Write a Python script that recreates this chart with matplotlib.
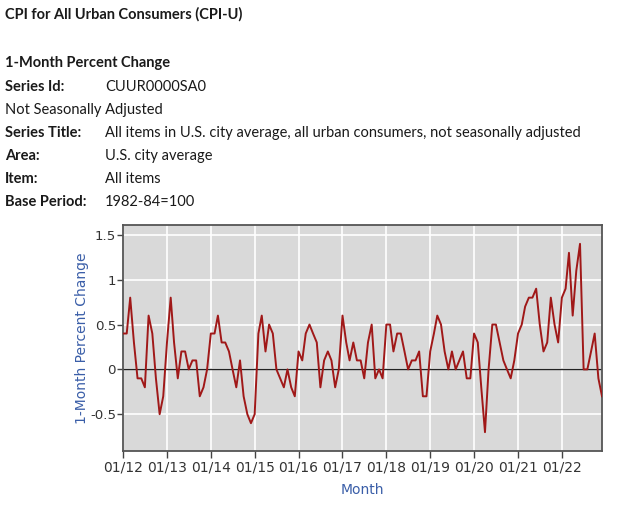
import matplotlib
matplotlib.use("Agg")
import matplotlib.pyplot as plt
import matplotlib.dates as mdates
import pandas as pd

# CPI-U 1-month percent change, not seasonally adjusted, Jan 2012 - Dec 2022
pct_2012 = [0.4, 0.4, 0.8, 0.3, -0.1, -0.1, -0.2, 0.6, 0.4, -0.1, -0.5, -0.3]
pct_2013 = [0.3, 0.8, 0.3, -0.1, 0.2, 0.2, 0.0, 0.1, 0.1, -0.3, -0.2, 0.0]
pct_2014 = [0.4, 0.4, 0.6, 0.3, 0.3, 0.2, 0.0, -0.2, 0.1, -0.3, -0.5, -0.6]
pct_2015 = [-0.5, 0.4, 0.6, 0.2, 0.5, 0.4, 0.0, -0.1, -0.2, 0.0, -0.2, -0.3]
pct_2016 = [0.2, 0.1, 0.4, 0.5, 0.4, 0.3, -0.2, 0.1, 0.2, 0.1, -0.2, 0.0]
pct_2017 = [0.6, 0.3, 0.1, 0.3, 0.1, 0.1, -0.1, 0.3, 0.5, -0.1, 0.0, -0.1]
pct_2018 = [0.5, 0.5, 0.2, 0.4, 0.4, 0.2, 0.0, 0.1, 0.1, 0.2, -0.3, -0.3]
pct_2019 = [0.2, 0.4, 0.6, 0.5, 0.2, 0.0, 0.2, 0.0, 0.1, 0.2, -0.1, -0.1]
pct_2020 = [0.4, 0.3, -0.2, -0.7, 0.0, 0.5, 0.5, 0.3, 0.1, 0.0, -0.1, 0.1]
pct_2021 = [0.4, 0.5, 0.7, 0.8, 0.8, 0.9, 0.5, 0.2, 0.3, 0.8, 0.5, 0.3]
pct_2022 = [0.8, 0.9, 1.3, 0.6, 1.1, 1.4, 0.0, 0.0, 0.2, 0.4, -0.1, -0.3]

pct_change = (pct_2012 + pct_2013 + pct_2014 + pct_2015 + pct_2016 + pct_2017
              + pct_2018 + pct_2019 + pct_2020 + pct_2021 + pct_2022)
months = pd.date_range("2012-01-01", periods=len(pct_change), freq="MS")
tick_years = pd.date_range("2012-01-01", "2022-01-01", freq="YS")
y_ticks = [-0.5, 0, 0.5, 1, 1.5]
y_labels = ["-0.5", "0", "0.5", "1", "1.5"]

header = [
    ("Series Id:", "CUUR0000SA0"),
    ("Not Seasonally Adjusted", None),
    ("Series Title:", "All items in U.S. city average, all urban consumers, not seasonally adjusted"),
    ("Area:", "U.S. city average"),
    ("Item:", "All items"),
    ("Base Period:", "1982-84=100"),
]

W, H = 620, 508
fig = plt.figure(figsize=(W / 100, H / 100), dpi=100)
fig.patch.set_facecolor("white")

hfont = "Lato"
txt_color = "#1a1a1a"
fs = 10.55
fig.text(5 / W, 1 - 14 / H, "CPI for All Urban Consumers (CPI-U)", fontsize=fs,
         fontweight="bold", family=hfont, color=txt_color, va="center")
fig.text(5 / W, 1 - 63 / H, "1-Month Percent Change", fontsize=fs,
         fontweight="bold", family=hfont, color=txt_color, va="center")
for i, (label, value) in enumerate(header):
    ypos = 1 - (87 + i * 23) / H
    if value is None:
        fig.text(5 / W, ypos, label, fontsize=fs, family=hfont, color=txt_color, va="center")
    else:
        fig.text(5 / W, ypos, label, fontsize=fs, fontweight="bold", family=hfont,
                 color=txt_color, va="center")
        fig.text(105 / W, ypos, value, fontsize=fs, family=hfont, color=txt_color, va="center")

ax = fig.add_axes([123 / W, 1 - 451 / H, (602 - 123) / W, (451 - 225) / H])
ax.set_facecolor("#d9d9d9")
ax.grid(True, color="white", linewidth=1.2)
ax.set_axisbelow(True)

ax.axhline(0, color="#222222", linewidth=1.0, zorder=2)
ax.plot(months, pct_change, color="#a01818", linewidth=1.4, zorder=3)

ax.set_xlim(months[0], months[-1])
ax.set_ylim(-0.91, 1.61)
ax.set_xticks(tick_years)
ax.xaxis.set_major_formatter(mdates.DateFormatter("%m/%y"))
ax.set_yticks(y_ticks)
ax.set_yticklabels(y_labels)
ax.tick_params(axis="both", colors="#444444", labelcolor="#333333", labelsize=10,
               length=5, width=1)
ax.tick_params(axis="x", pad=2)
ax.tick_params(axis="y", pad=1, length=4, labelsize=9.6)
for s in ax.spines.values():
    s.set_color("#555555")
    s.set_linewidth(1.3)

ax.set_ylabel("1-Month Percent Change", color="#3a5ea8", fontsize=10, labelpad=1)
ax.set_xlabel("Month", color="#3a5ea8", fontsize=10, labelpad=6)

fig.savefig("out.png", dpi=100)
